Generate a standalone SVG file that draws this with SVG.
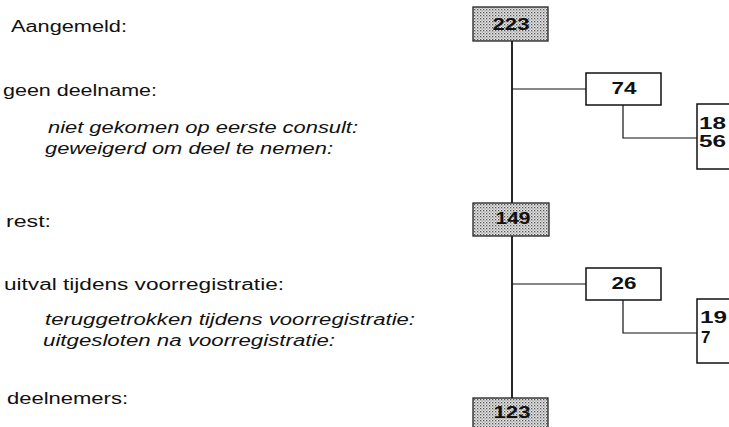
<svg xmlns="http://www.w3.org/2000/svg" width="729" height="427" viewBox="0 0 729 427">
<defs>
<pattern id="stip" width="3" height="3" patternUnits="userSpaceOnUse">
<rect width="3" height="3" fill="#e4e4e4"/>
<rect x="0" y="0" width="1.3" height="1.3" fill="#555"/>
<rect x="1.5" y="1.5" width="1.1" height="1.1" fill="#777"/>
</pattern>
</defs>
<style>
.lbl{font-family:"Liberation Sans",Arial,Helvetica,sans-serif;font-size:16px;fill:#111}
.it{font-style:italic}
.num{font-family:"Liberation Sans",Arial,Helvetica,sans-serif;font-size:17px;font-weight:bold;fill:#111}
.box{fill:#fff;stroke:#111;stroke-width:1.5}
.sbox{fill:url(#stip);stroke:#222;stroke-width:1.3}
.ln{fill:none;stroke:#111;stroke-width:1.2}
.main{fill:none;stroke:#111;stroke-width:1.8}
</style>
<rect width="729" height="427" fill="#fff"/>
<g id="labels">
<text class="lbl" x="11" y="32" textLength="116" lengthAdjust="spacingAndGlyphs">Aangemeld:</text>
<text class="lbl" x="3" y="96" textLength="154" lengthAdjust="spacingAndGlyphs">geen deelname:</text>
<text class="lbl it" x="48" y="133" textLength="310" lengthAdjust="spacingAndGlyphs">niet gekomen op eerste consult:</text>
<text class="lbl it" x="45" y="154" textLength="288" lengthAdjust="spacingAndGlyphs">geweigerd om deel te nemen:</text>
<text class="lbl" x="6" y="227" textLength="45" lengthAdjust="spacingAndGlyphs">rest:</text>
<text class="lbl" x="4" y="290" textLength="280" lengthAdjust="spacingAndGlyphs">uitval tijdens voorregistratie:</text>
<text class="lbl it" x="45" y="325" textLength="370" lengthAdjust="spacingAndGlyphs">teruggetrokken tijdens voorregistratie:</text>
<text class="lbl it" x="43" y="346" textLength="292" lengthAdjust="spacingAndGlyphs">uitgesloten na voorregistratie:</text>
<text class="lbl" x="7" y="404" textLength="121" lengthAdjust="spacingAndGlyphs">deelnemers:</text>
</g>
<g id="connectors">
<path class="main" d="M512 41 V203 M512 236 V398"/>
<path class="ln" d="M512 89 H586 M623 105 V138 H697"/>
<path class="ln" d="M512 284 H586 M623 300 V333 H697"/>
</g>
<g id="n223">
<rect class="sbox" x="473" y="7" width="75" height="34"/>
<text class="num" x="511" y="30" text-anchor="middle" textLength="37" lengthAdjust="spacingAndGlyphs">223</text>
</g>
<g id="n74">
<rect class="box" x="586" y="73" width="75" height="32"/>
<text class="num" x="624" y="94" text-anchor="middle" textLength="25" lengthAdjust="spacingAndGlyphs">74</text>
</g>
<g id="n18_56">
<rect class="box" x="697" y="104" width="40" height="65"/>
<text class="num" x="699" y="129" textLength="27" lengthAdjust="spacingAndGlyphs">18</text>
<text class="num" x="699" y="147" textLength="27" lengthAdjust="spacingAndGlyphs">56</text>
</g>
<g id="n149">
<rect class="sbox" x="473" y="203" width="76" height="33"/>
<text class="num" x="513" y="224" text-anchor="middle" textLength="35" lengthAdjust="spacingAndGlyphs">149</text>
</g>
<g id="n26">
<rect class="box" x="586" y="268" width="75" height="32"/>
<text class="num" x="624" y="289" text-anchor="middle" textLength="25" lengthAdjust="spacingAndGlyphs">26</text>
</g>
<g id="n19_7">
<rect class="box" x="697" y="299" width="40" height="64"/>
<text class="num" x="700" y="323" textLength="27" lengthAdjust="spacingAndGlyphs">19</text>
<text class="num" x="701" y="343">7</text>
</g>
<g id="n123">
<rect class="sbox" x="473" y="398" width="75" height="32"/>
<text class="num" x="512" y="418" text-anchor="middle" textLength="37" lengthAdjust="spacingAndGlyphs">123</text>
</g>
</svg>
